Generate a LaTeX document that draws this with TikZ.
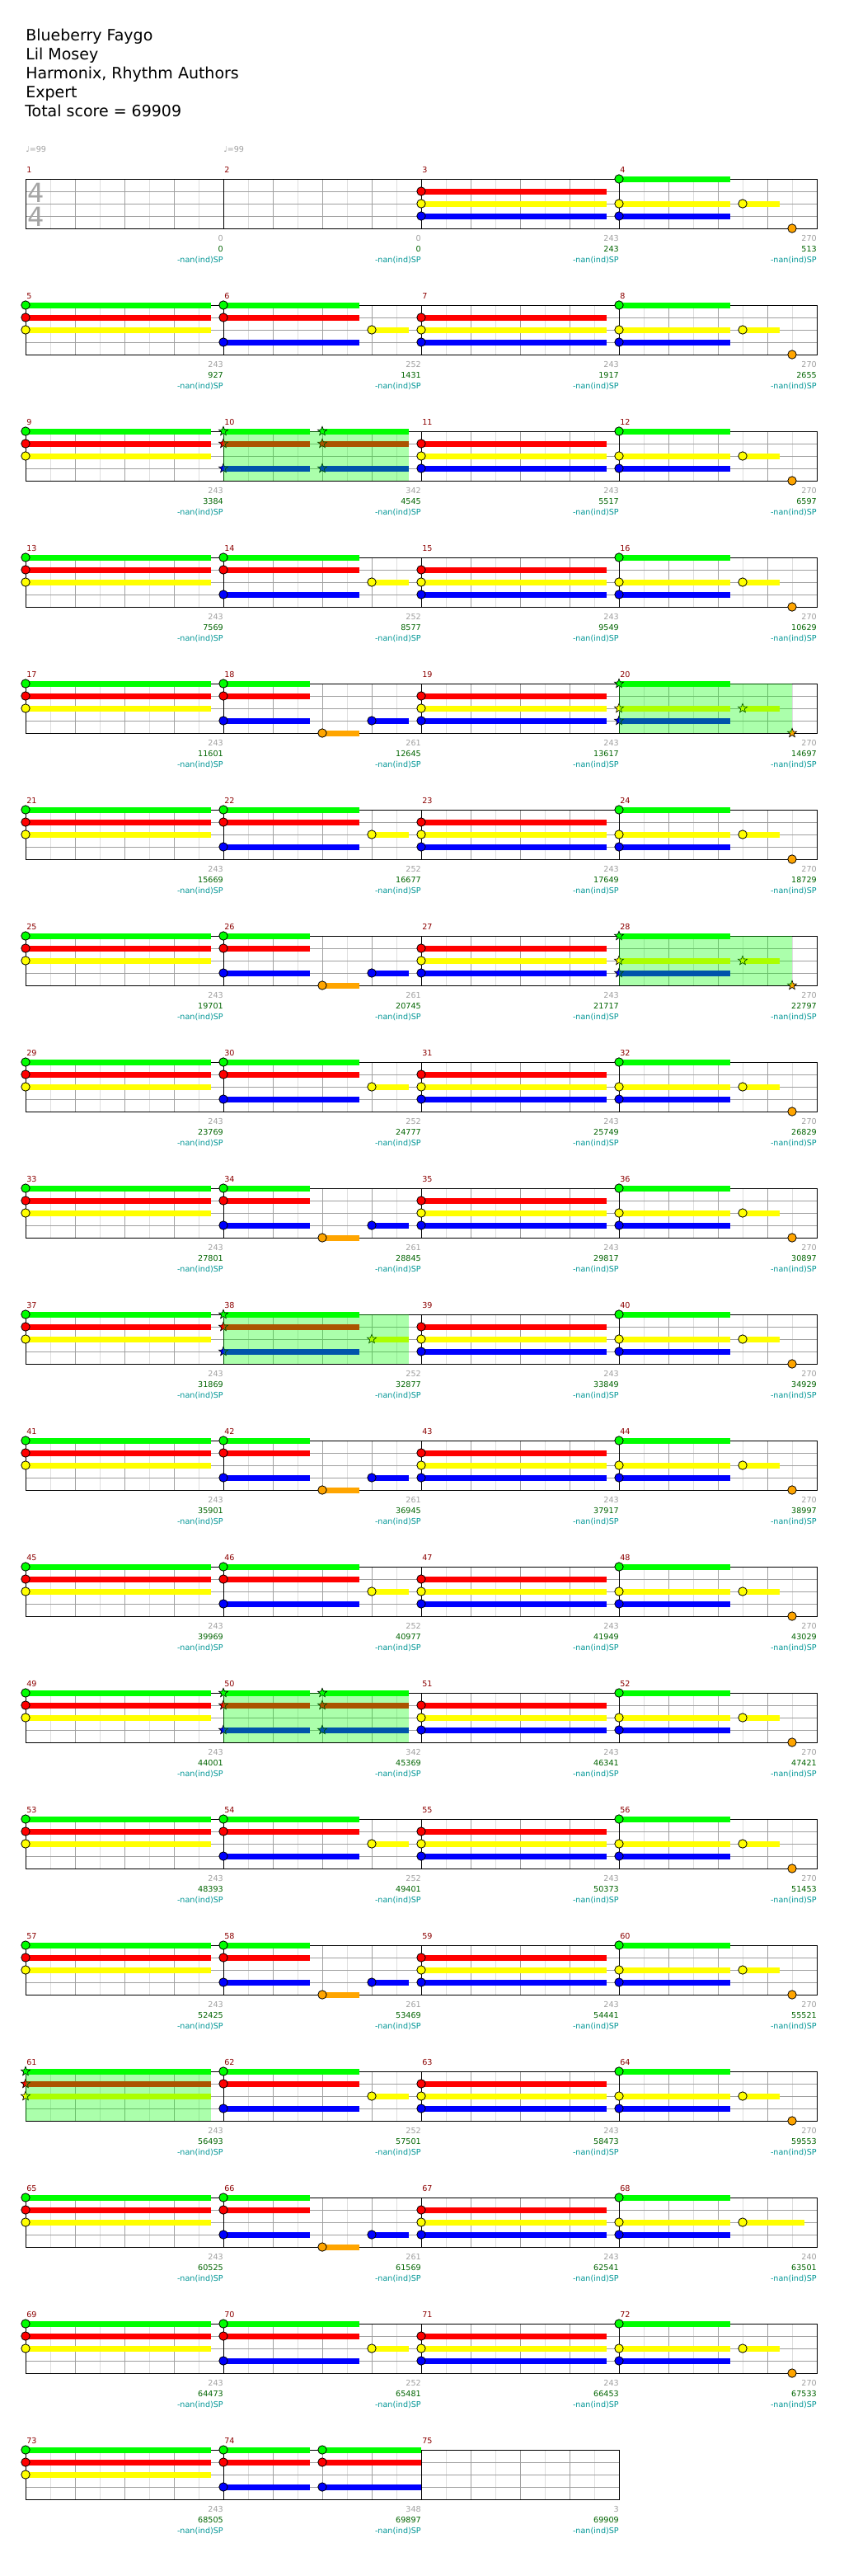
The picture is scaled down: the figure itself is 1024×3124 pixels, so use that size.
\documentclass[tikz,border=0pt]{standalone}
\usepackage{fontspec}
\setmainfont{DejaVu Sans}
\usetikzlibrary{shapes.geometric}

\definecolor{lane0}{RGB}{0,255,0}
\definecolor{lane1}{RGB}{255,0,0}
\definecolor{lane2}{RGB}{255,255,0}
\definecolor{lane3}{RGB}{0,0,255}
\definecolor{lane4}{RGB}{255,165,0}
\definecolor{colBeat}{RGB}{160,160,160}
\definecolor{colHalf}{RGB}{222,222,222}
\definecolor{colNum}{RGB}{140,0,0}
\definecolor{colLen}{RGB}{160,160,160}
\definecolor{colScore}{RGB}{0,100,0}
\definecolor{colSP}{RGB}{0,150,150}
\definecolor{colSig}{RGB}{165,165,165}

\newcount\gemno
% sustain: lane, from beat, to beat
\newcommand{\hold}[3]{\fill[lane#1] (\barx+60*#2,\rowy+15*#1-3.5) rectangle (\barx+60*#3,\rowy+15*#1+3.5);}
% note: lane, beat
\newcommand{\gem}[2]{\global\advance\gemno by 1
  \ifnum\spflag=1
    \node[stargem, fill=lane#1] (gem\the\gemno) at (\barx+60*#2,\rowy+15*#1) {};
  \else
    \node[gem, fill=lane#1] (gem\the\gemno) at (\barx+60*#2,\rowy+15*#1) {};
  \fi}
% star power shading
\newcommand{\spzone}[1]{\ifnum\spflag=1 \fill[lane0, opacity=0.33] (\barx,\rowy) rectangle (\barx+60*#1,\rowy+60);\fi}

% measure patterns
\newcommand{\measA}{\hold{0}{0}{3.75}\hold{1}{0}{3.75}\hold{2}{0}{3.75}%
  \gem{0}{0}\gem{1}{0}\gem{2}{0}\spzone{3.75}}
\newcommand{\measB}{\hold{0}{0}{2.75}\hold{1}{0}{2.75}\hold{3}{0}{2.75}\hold{2}{3}{3.75}%
  \gem{0}{0}\gem{1}{0}\gem{3}{0}\gem{2}{3}\spzone{3.75}}
\newcommand{\measK}{\hold{0}{0}{1.75}\hold{1}{0}{1.75}\hold{3}{0}{1.75}\hold{4}{2}{2.75}\hold{3}{3}{3.75}%
  \gem{0}{0}\gem{1}{0}\gem{3}{0}\gem{4}{2}\gem{3}{3}}
\newcommand{\measC}{\hold{1}{0}{3.75}\hold{2}{0}{3.75}\hold{3}{0}{3.75}%
  \gem{1}{0}\gem{2}{0}\gem{3}{0}}
\newcommand{\measD}{\hold{0}{0}{2.25}\hold{2}{0}{2.25}\hold{3}{0}{2.25}\hold{2}{2.5}{3.25}%
  \gem{0}{0}\gem{2}{0}\gem{3}{0}\gem{2}{2.5}\gem{4}{3.5}\spzone{3.5}}
\newcommand{\measH}{\hold{0}{0}{2.25}\hold{2}{0}{2.25}\hold{3}{0}{2.25}\hold{2}{2.5}{3.75}%
  \gem{0}{0}\gem{2}{0}\gem{3}{0}\gem{2}{2.5}}
\newcommand{\measE}{\hold{0}{0}{1.75}\hold{1}{0}{1.75}\hold{3}{0}{1.75}%
  \hold{0}{2}{3.75}\hold{1}{2}{3.75}\hold{3}{2}{3.75}%
  \gem{0}{0}\gem{1}{0}\gem{3}{0}\gem{0}{2}\gem{1}{2}\gem{3}{2}\spzone{3.75}}
\newcommand{\measF}{\hold{0}{0}{1.75}\hold{1}{0}{1.75}\hold{3}{0}{1.75}%
  \hold{0}{2}{4}\hold{1}{2}{4}\hold{3}{2}{4}%
  \gem{0}{0}\gem{1}{0}\gem{3}{0}\gem{0}{2}\gem{1}{2}\gem{3}{2}}

\begin{document}
\begin{tikzpicture}[x=0.75pt, y=-0.75pt,
  gem/.style={circle, draw=black, line width=0.6pt, inner sep=0pt, minimum size=7.8pt},
  stargem/.style={star, star points=5, star point ratio=2.3, draw=black, line width=0.5pt, inner sep=0pt, minimum size=8.6pt},
  halfline/.style={draw=colHalf, line width=0.75pt},
  beatline/.style={draw=colBeat, line width=0.75pt},
  barline/.style={draw=black, line width=0.75pt},
  header/.style={anchor=base west, inner sep=0pt, font=\fontsize{14.25}{17}\selectfont},
  tinylab/.style={inner sep=0pt, font=\fontsize{7.2}{8.6}\selectfont},
  sigdigit/.style={anchor=base, inner sep=0pt, text=colSig, font=\fontsize{24}{28}\selectfont}]
\useasboundingbox[fill=white] (0,0) rectangle (1024,3124);

% Header
\node[header] (title) at (31,49) {Blueberry Faygo};
\node[header] (artist) at (31,72) {Lil Mosey};
\node[header] (charter) at (31,95) {Harmonix, Rhythm Authors};
\node[header] (level) at (31,118) {Expert};
\node[header] (total) at (30,141) {Total score = 69909};

% Tempo
\node[tinylab, anchor=base west, text=colLen] (bpm1) at (31,184.3) {♩=99};
\node[tinylab, anchor=base west, text=colLen] (bpm2) at (271,184.3) {♩=99};

% Staff grids
\foreach \rw in {0,...,18} {
  \pgfmathsetmacro\rowy{217+153*\rw}
  \pgfmathtruncatemacro\nb{\rw==18 ? 12 : 16}
  \pgfmathtruncatemacro\nm{\nb/4}
  \foreach \k in {1,...,\nb}
    \draw[halfline] (1+60*\k,\rowy) -- ++(0,60);
  \foreach \k in {1,...,\nb}
    \draw[beatline] (31+60*\k,\rowy) -- ++(0,60);
  \foreach \l in {1,2,3}
    \draw[beatline] (31,\rowy+15*\l) -- (31+60*\nb,\rowy+15*\l);
  \draw[barline] (31,\rowy) rectangle (31+60*\nb,\rowy+60);
  \foreach \b in {1,...,\nm}
    \draw[barline] (31+240*\b,\rowy) -- ++(0,60);
}

% Time signature
\node[sigdigit] (sigtop) at (44,245) {4};
\node[sigdigit] (sigbot) at (44,274) {4};

% Notes
\foreach \m/\t/\s in {3/C/0, 4/D/0, 5/A/0, 6/B/0, 7/C/0, 8/D/0, 9/A/0, 10/E/1, 11/C/0, 12/D/0,
  13/A/0, 14/B/0, 15/C/0, 16/D/0, 17/A/0, 18/K/0, 19/C/0, 20/D/1,
  21/A/0, 22/B/0, 23/C/0, 24/D/0, 25/A/0, 26/K/0, 27/C/0, 28/D/1,
  29/A/0, 30/B/0, 31/C/0, 32/D/0, 33/A/0, 34/K/0, 35/C/0, 36/D/0,
  37/A/0, 38/B/1, 39/C/0, 40/D/0, 41/A/0, 42/K/0, 43/C/0, 44/D/0,
  45/A/0, 46/B/0, 47/C/0, 48/D/0, 49/A/0, 50/E/1, 51/C/0, 52/D/0,
  53/A/0, 54/B/0, 55/C/0, 56/D/0, 57/A/0, 58/K/0, 59/C/0, 60/D/0,
  61/A/1, 62/B/0, 63/C/0, 64/D/0, 65/A/0, 66/K/0, 67/C/0, 68/H/0,
  69/A/0, 70/B/0, 71/C/0, 72/D/0, 73/A/0, 74/F/0} {
  \pgfmathtruncatemacro\rw{(\m-1)/4}
  \pgfmathtruncatemacro\cl{\m-1-4*\rw}
  \pgfmathsetmacro\barx{31+240*\cl}
  \pgfmathsetmacro\rowy{217+153*\rw}
  \def\spflag{\s}
  \csname meas\t\endcsname
}

% Measure labels
\foreach \m/\ml/\ms in {1/0/0, 2/0/0, 3/243/243, 4/270/513, 5/243/927, 6/252/1431, 7/243/1917, 8/270/2655,
  9/243/3384, 10/342/4545, 11/243/5517, 12/270/6597, 13/243/7569, 14/252/8577, 15/243/9549, 16/270/10629,
  17/243/11601, 18/261/12645, 19/243/13617, 20/270/14697, 21/243/15669, 22/252/16677, 23/243/17649, 24/270/18729,
  25/243/19701, 26/261/20745, 27/243/21717, 28/270/22797, 29/243/23769, 30/252/24777, 31/243/25749, 32/270/26829,
  33/243/27801, 34/261/28845, 35/243/29817, 36/270/30897, 37/243/31869, 38/252/32877, 39/243/33849, 40/270/34929,
  41/243/35901, 42/261/36945, 43/243/37917, 44/270/38997, 45/243/39969, 46/252/40977, 47/243/41949, 48/270/43029,
  49/243/44001, 50/342/45369, 51/243/46341, 52/270/47421, 53/243/48393, 54/252/49401, 55/243/50373, 56/270/51453,
  57/243/52425, 58/261/53469, 59/243/54441, 60/270/55521, 61/243/56493, 62/252/57501, 63/243/58473, 64/270/59553,
  65/243/60525, 66/261/61569, 67/243/62541, 68/240/63501, 69/243/64473, 70/252/65481, 71/243/66453, 72/270/67533,
  73/243/68505, 74/348/69897, 75/3/69909} {
  \pgfmathtruncatemacro\rw{(\m-1)/4}
  \pgfmathtruncatemacro\cl{\m-1-4*\rw}
  \pgfmathsetmacro\barx{31+240*\cl}
  \pgfmathsetmacro\rowy{217+153*\rw}
  \node[tinylab, anchor=base west, text=colNum] (num\m) at (\barx+1,\rowy-7.7) {\m};
  \node[tinylab, anchor=base east, text=colLen] (len\m) at (\barx+240,\rowy+75.7) {\ml};
  \node[tinylab, anchor=base east, text=colScore] (score\m) at (\barx+240,\rowy+88.7) {\ms};
  \node[tinylab, anchor=base east, text=colSP] (sp\m) at (\barx+240,\rowy+101.5) {-nan(ind)SP};
}
\end{tikzpicture}
\end{document}
